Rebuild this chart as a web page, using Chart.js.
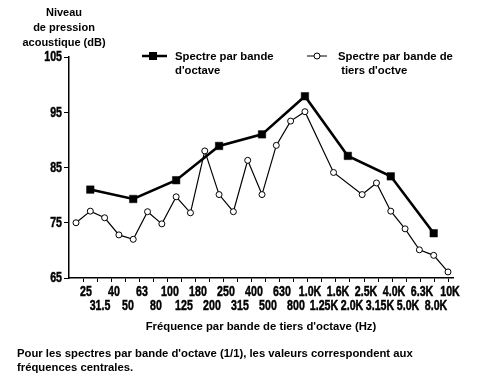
<!DOCTYPE html>
<html><head><meta charset="utf-8">
<script src="https://cdn.jsdelivr.net/npm/chart.js@4"></script>
<style>
html,body{margin:0;padding:0;background:#fff;}
#wrap{position:relative;width:479px;height:385px;overflow:hidden;background:#fff;}
canvas{position:absolute;left:0;top:0;}
.t{position:absolute;font-family:"Liberation Sans",Arial,sans-serif;font-weight:bold;font-size:11.3px;color:#000;white-space:nowrap;line-height:14px;}
</style></head><body>
<div id="wrap">
<canvas id="c" width="479" height="385"></canvas>
<div class="t" style="left:2px;width:124px;top:5px;text-align:center;font-size:11px;line-height:15px;">Niveau<br>de pression<br>acoustique (dB)</div>
<div class="t" style="left:175px;top:49px;">Spectre par bande<br>d'octave</div>
<div class="t" style="left:338px;top:49px;">Spectre par bande de<br>&nbsp;tiers d'octve</div>
<div class="t" style="left:69px;width:384px;top:319px;text-align:center;">Fréquence par bande de tiers d'octave (Hz)</div>
<div class="t" style="left:17px;top:346px;">Pour les spectres par bande d'octave (1/1), les valeurs correspondent aux<br>fréquences centrales.</div>
</div>
<script>
const categories = ['25','31.5','40','50','63','80','100','125','180','200','250','315','400','500','630','800','1.0K','1.25K','1.6K','2.0K','2.5K','3.15K','4.0K','5.0K','6.3K','8.0K','10K'];
const tiersOctave = [75.0,77.1,75.9,72.8,72.0,77.0,74.8,79.7,76.8,88.0,80.1,77.0,86.3,80.1,89.0,93.4,95.1,null,84.1,null,80.1,82.2,77.1,73.9,70.1,69.1,66.1];
const octaveBands = ['31.5','63','125','250','500','1.0K','2.0K','4.0K','8.0K'];
const octaveValues = [81.0,79.3,82.7,88.9,91.0,97.9,87.1,83.4,73.1];
const yTicks = [65,75,85,95,105];

const LABEL_FONT = 'bold 14px "Liberation Sans", Arial, sans-serif';
const SQUEEZE = 0.76;

const labelPlugin = {
  id:'condensedLabels',
  afterDraw(chart){
    const ctx=chart.ctx, xs=chart.scales.x, ys=chart.scales.y, area=chart.chartArea;
    const put=(txt,x,y)=>{ ctx.save(); ctx.translate(x,y); ctx.scale(SQUEEZE,1); ctx.fillText(txt,0,0); ctx.strokeText(txt,0,0); ctx.restore(); };
    ctx.save();
    ctx.fillStyle='#000'; ctx.strokeStyle='#000'; ctx.lineWidth=0.45;
    ctx.font=LABEL_FONT;
    ctx.textAlign='center';
    ctx.textBaseline='alphabetic';
    xs.ticks.forEach((t,i)=>{
      const px=xs.getPixelForValue(t.value)+2;
      const py=area.bottom + (i%2===0 ? 17.5 : 32);
      put(categories[i],px,py);
    });
    ctx.textAlign='right';
    ctx.textBaseline='middle';
    ys.ticks.forEach(t=>{
      const py=ys.getPixelForValue(t.value);
      put(String(t.value), ys.right-7, py+0.5);
    });
    ctx.restore();
  }
};

const legendPlugin = {
  id:'legendMarks',
  afterDraw(chart){
    const ctx = chart.ctx;
    ctx.save();
    ctx.strokeStyle='#000'; ctx.fillStyle='#000';
    ctx.lineWidth=2.5;
    ctx.beginPath(); ctx.moveTo(142,56); ctx.lineTo(167,56); ctx.stroke();
    ctx.fillRect(149,52,8,8);
    ctx.lineWidth=1;
    ctx.beginPath(); ctx.moveTo(307,56); ctx.lineTo(327,56); ctx.stroke();
    ctx.beginPath(); ctx.arc(317,56,3,0,Math.PI*2); ctx.fillStyle='#fff'; ctx.fill(); ctx.stroke();
    ctx.restore();
  }
};

new Chart(document.getElementById('c'), {
  type:'line',
  data:{
    datasets:[
      {
        label:"Spectre par bande de tiers d'octve",
        data: categories.map((c,i)=>({x:i, y:tiersOctave[i]})),
        xAxisID:'xp', yAxisID:'y',
        borderColor:'#000', borderWidth:1.2,
        pointStyle:'circle', pointRadius:3, pointBorderWidth:1,
        pointBackgroundColor:'#fff', pointBorderColor:'#000',
        spanGaps:true, tension:0, fill:false
      },
      {
        label:"Spectre par bande d'octave",
        data: octaveBands.map((b,k)=>({x:categories.indexOf(b), y:octaveValues[k]})),
        xAxisID:'xp', yAxisID:'y',
        borderColor:'#000', borderWidth:2.6,
        pointStyle:'rect', pointRadius:5.3, pointBorderWidth:0.5,
        pointBackgroundColor:'#000', pointBorderColor:'#000',
        tension:0, fill:false
      }
    ]
  },
  options:{
    responsive:false, animation:false, devicePixelRatio:1,
    layout:{padding:{top:57,right:26,bottom:0,left:0}},
    plugins:{legend:{display:false}, tooltip:{enabled:false}, title:{display:false}},
    scales:{
      x:{
        type:'linear', position:'bottom', min:-1.071, max:26.357,
        afterBuildTicks:(s)=>{ s.ticks = categories.map((_,i)=>({value:i})); },
        afterFit:(s)=>{ s.height = 107; },
        grid:{drawOnChartArea:false, drawTicks:true, tickLength:4, color:'#000', lineWidth:1},
        border:{display:true, color:'#000', width:1.5},
        ticks:{display:false, autoSkip:false, maxRotation:0, minRotation:0}
      },
      xp:{
        type:'linear', display:false, min:-0.489, max:26.349
      },
      y:{
        type:'linear', position:'left', min:65, max:105,
        afterBuildTicks:(s)=>{ s.ticks = yTicks.map(v=>({value:v})); },
        afterFit:(s)=>{ s.width = 69; },
        grid:{drawOnChartArea:false, drawTicks:true, tickLength:5, color:'#000', lineWidth:1},
        border:{display:true, color:'#000', width:1.5},
        ticks:{display:false}
      }
    }
  },
  plugins:[labelPlugin, legendPlugin]
});
</script>
</body></html>
